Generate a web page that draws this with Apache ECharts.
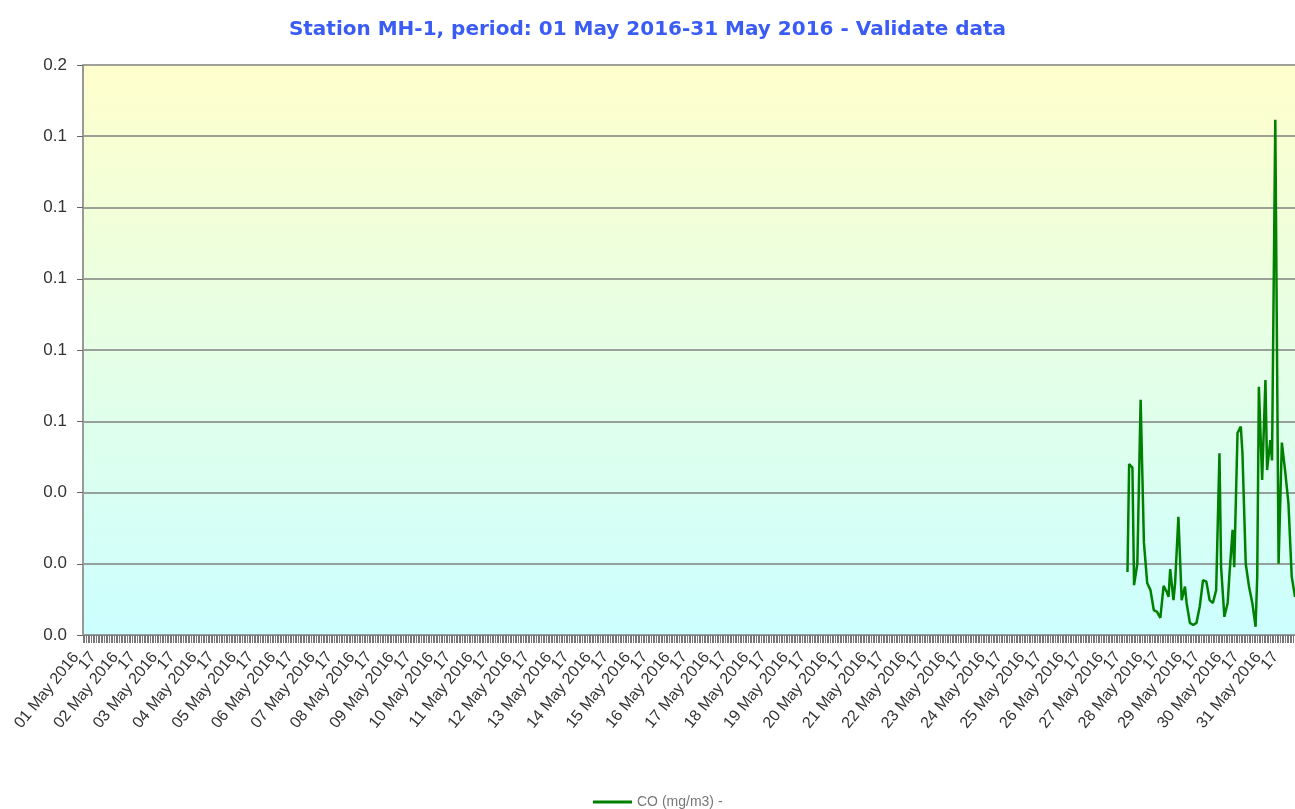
<!DOCTYPE html>
<html>
<head>
<meta charset="utf-8">
<title>Station MH-1 - CO</title>
<script src="https://cdn.jsdelivr.net/npm/echarts@6/dist/echarts.min.js"></script>
<style>
  html, body { margin: 0; padding: 0; background: #fff; }
  #chart { width: 1295px; height: 809px; }
</style>
</head>
<body>
<div id="chart"></div>
<script>
// hourly category axis, starts 3h before 01 May so the first day tick is a bit in from the edge
const axisStart = Date.UTC(2016, 3, 30, 21);
const axisHours = 739;
const monthNames = ["Jan", "Feb", "Mar", "Apr", "May", "Jun", "Jul", "Aug", "Sep", "Oct", "Nov", "Dec"];
const hourLabel = "17";

// CO (mg/m3), only the last days of the month have readings
const coTimes = [
  "2016-05-27 09:00", "2016-05-27 10:00", "2016-05-27 12:00", "2016-05-27 13:00", "2016-05-27 15:00",
  "2016-05-27 17:00", "2016-05-27 19:00", "2016-05-27 21:00", "2016-05-27 23:00",
  "2016-05-28 01:00", "2016-05-28 03:00", "2016-05-28 05:00", "2016-05-28 07:00", "2016-05-28 09:00",
  "2016-05-28 10:00", "2016-05-28 11:00", "2016-05-28 13:00", "2016-05-28 14:00", "2016-05-28 16:00",
  "2016-05-28 18:00", "2016-05-28 20:00", "2016-05-28 21:00", "2016-05-28 23:00",
  "2016-05-29 01:00", "2016-05-29 03:00", "2016-05-29 05:00", "2016-05-29 07:00", "2016-05-29 09:00",
  "2016-05-29 11:00", "2016-05-29 13:00", "2016-05-29 15:00", "2016-05-29 17:00", "2016-05-29 18:00",
  "2016-05-29 20:00", "2016-05-29 22:00", "2016-05-29 23:00",
  "2016-05-30 01:00", "2016-05-30 02:00", "2016-05-30 04:00", "2016-05-30 06:00", "2016-05-30 07:00",
  "2016-05-30 09:00", "2016-05-30 11:00", "2016-05-30 13:00", "2016-05-30 15:00", "2016-05-30 16:00",
  "2016-05-30 17:00", "2016-05-30 19:00", "2016-05-30 21:00", "2016-05-30 22:00",
  "2016-05-31 00:00", "2016-05-31 01:00", "2016-05-31 03:00", "2016-05-31 05:00", "2016-05-31 07:00",
  "2016-05-31 09:00", "2016-05-31 11:00", "2016-05-31 13:00", "2016-05-31 15:00"
];
const coValues = [
  0.0177, 0.048, 0.047, 0.014, 0.020,
  0.066, 0.026, 0.0146, 0.0126,
  0.007, 0.0065, 0.0048, 0.0138, 0.012,
  0.0107, 0.0185, 0.0098, 0.0146, 0.0332,
  0.0098, 0.0136, 0.009, 0.0034,
  0.0028, 0.0034, 0.008, 0.0154, 0.015,
  0.0098, 0.009, 0.0126, 0.051, 0.019,
  0.0051, 0.009, 0.0164,
  0.0295, 0.019, 0.0567, 0.0585, 0.051,
  0.020, 0.0136, 0.009, 0.0023, 0.0164,
  0.0697, 0.0435, 0.0716, 0.0463,
  0.0547, 0.049, 0.1446, 0.020, 0.054,
  0.046, 0.037, 0.0164, 0.0107
];

function pad(n) {
  return n < 10 ? "0" + n : "" + n;
}
function hourName(t) {
  let d = new Date(t);
  return d.getUTCFullYear() + "-" + pad(d.getUTCMonth() + 1) + "-" + pad(d.getUTCDate()) + " " + pad(d.getUTCHours()) + ":00";
}

let hours = [];
for (let i = 0; i < axisHours; i++) {
  hours.push(hourName(axisStart + i * 3600 * 1000));
}

let coData = coTimes.map((t, i) => [t, coValues[i]]);

let myChart = echarts.init(document.getElementById("chart"));
myChart.setOption({
  animation: false,
  title: {
    text: "Station MH-1, period: 01 May 2016-31 May 2016 - Validate data",
    left: "center",
    top: 15,
    textStyle: { color: "#3a5cf5", fontWeight: "bold", fontSize: 20, fontFamily: "DejaVu Sans" },
  },
  legend: {
    data: ["CO (mg/m3) -"],
    left: 588,
    bottom: -5,
    icon: "rect",
    itemWidth: 39,
    itemHeight: 3,
    itemGap: 4,
    textStyle: { color: "#777", fontSize: 14, fontFamily: "Liberation Sans" },
  },
  grid: {
    left: 83,
    right: 0,
    top: 65,
    bottom: 174,
    show: true,
    borderWidth: 0,
    backgroundColor: new echarts.graphic.LinearGradient(0, 0, 0, 1, [
      { offset: 0, color: "#ffffcc" },
      { offset: 1, color: "#ccffff" },
    ]),
  },
  xAxis: {
    type: "category",
    data: hours,
    boundaryGap: false,
    axisLine: { lineStyle: { color: "#888", width: 1 } },
    axisTick: { interval: 0, length: 8, lineStyle: { color: "#777" } },
    axisLabel: {
      interval: (index, value) => value.slice(11, 13) === "00",
      showMinLabel: true,
      showMaxLabel: true,
      rotate: 51,
      margin: 15,
      formatter: (value) => {
        let day = value.slice(8, 10);
        let mon = monthNames[parseInt(value.slice(5, 7)) - 1];
        return "{d|" + day + " " + mon + " " + value.slice(0, 4) + "}\n{h|" + hourLabel + "}";
      },
      rich: {
        d: { fontSize: 16, color: "#333", fontFamily: "Liberation Sans", lineHeight: 13, padding: [0, 11, 0, 0] },
        h: { fontSize: 16, color: "#333", fontFamily: "Liberation Sans", lineHeight: 13 },
      },
    },
    splitLine: { show: false },
  },
  yAxis: {
    type: "value",
    min: 0,
    max: 0.16,
    interval: 0.02,
    axisLine: { show: true, lineStyle: { color: "#999", width: 2 } },
    axisTick: { show: true, length: 6, lineStyle: { color: "#666" } },
    axisLabel: {
      formatter: (v) => v.toFixed(1),
      color: "#333",
      fontSize: 17,
      fontFamily: "Liberation Sans",
      margin: 16,
    },
    splitLine: { lineStyle: { color: "#808080", width: 1.5 } },
  },
  series: [
    {
      name: "CO (mg/m3) -",
      type: "line",
      data: coData,
      showSymbol: false,
      lineStyle: { color: "#008000", width: 2.5 },
      itemStyle: { color: "#008000" },
    },
  ],
});
window.addEventListener("resize", () => {
  myChart.resize();
});
</script>
</body>
</html>
